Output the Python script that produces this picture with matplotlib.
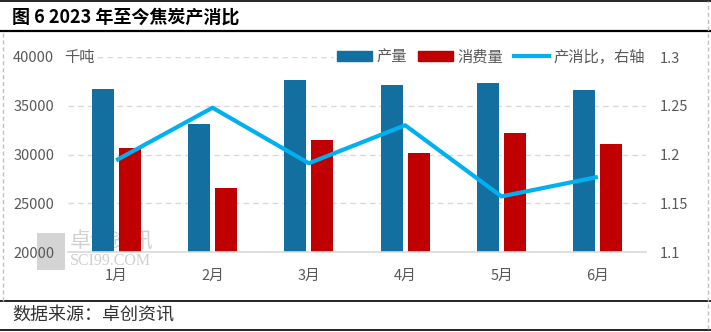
import matplotlib
matplotlib.use("Agg")
import matplotlib.pyplot as plt
from matplotlib.lines import Line2D
from matplotlib.patches import Rectangle
import numpy as np

plt.rcParams['font.family'] = ['Noto Sans CJK SC', 'DejaVu Sans']

months = ["1月", "2月", "3月", "4月", "5月", "6月"]
production = [36700, 33100, 37650, 37130, 37330, 36620]
consumption = [30670, 26560, 31490, 30150, 32200, 31080]
ratio = [1.194, 1.248, 1.191, 1.230, 1.157, 1.177]
left_ticks = [20000, 25000, 30000, 35000, 40000]
right_ticks = [1.1, 1.15, 1.2, 1.25, 1.3]
right_labels = ["1.1", "1.15", "1.2", "1.25", "1.3"]

BLUE = "#136FA0"
RED = "#C00000"
CYAN = "#00B0F0"
GRAY = "#595959"

W, H = 711, 332
fig = plt.figure(figsize=(W/100, H/100), dpi=100)

ax = fig.add_axes([68/W, (H-252)/H, (646-68)/W, (252-57)/H])
x = np.arange(len(months))
bw = 0.23
ax.bar(x - 0.14, production, bw, color=BLUE, zorder=3, label="产量")
ax.bar(x + 0.14, consumption, bw, color=RED, zorder=3, label="消费量")
ax.set_xlim(-0.5, len(months) - 0.5)
ax.set_ylim(20000, 40000)
ax.set_yticks(left_ticks)
ax.set_yticklabels([str(v) for v in left_ticks])
ax.set_xticks(x)
ax.set_xticklabels(months)
ax.tick_params(axis='both', length=0, colors=GRAY, labelsize=10.5)
ax.tick_params(axis='y', pad=10)
ax.tick_params(axis='x', pad=12)
ax.grid(axis='y', color='#D9D9D9', linestyle=(0, (4, 3)), linewidth=1, zorder=0)
for s in ['top', 'right', 'left']:
    ax.spines[s].set_visible(False)
ax.spines['bottom'].set_color('#D9D9D9')
ax.spines['bottom'].set_linewidth(1.2)
ax.spines['bottom'].set_zorder(4)

# watermark (behind bars and tick labels)
ax.add_patch(Rectangle((37/W, (H-270)/H), 28/W, 37/H, transform=fig.transFigure,
                       facecolor='#D4D4D4', edgecolor='none', zorder=1, clip_on=False))
ax.text(70/W, (H-242)/H, "卓创资讯", fontsize=15, color='#D0D0D0', va='center',
        ha='left', zorder=1, transform=fig.transFigure, clip_on=False)
ax.text(70/W, (H-261)/H, "SCI99.COM", fontsize=11.5, color='#D0D0D0', va='center',
        ha='left', family='Liberation Serif', zorder=1, transform=fig.transFigure,
        clip_on=False)

ax2 = ax.twinx()
ax2.plot(x, ratio, color=CYAN, linewidth=3, zorder=5, solid_capstyle='butt')
ax2.set_ylim(1.1, 1.3)
ax2.set_yticks(right_ticks)
ax2.set_yticklabels(right_labels)
ax2.tick_params(axis='y', length=0, colors=GRAY, labelsize=10.5, pad=10)
for s in ['top', 'right', 'left', 'bottom']:
    ax2.spines[s].set_visible(False)

# unit label
ax2.text(-0.5 - 4/96, 1.3, "千吨", ha='left', va='center', fontsize=11,
         color=GRAY, zorder=6, transform=ax2.transData,
         bbox=dict(facecolor='white', edgecolor='none', pad=1.5))

# legend
handles = [Rectangle((0, 0), 1, 1, color=BLUE), Rectangle((0, 0), 1, 1, color=RED),
           Line2D([0], [0], color=CYAN, linewidth=3)]
leg = ax2.legend(handles, ["产量", "消费量", "产消比，右轴"], loc='center right',
                 bbox_to_anchor=(1.004, 1.0), ncol=3, frameon=True, fontsize=11,
                 handlelength=2.3, handleheight=0.6, columnspacing=0.7,
                 handletextpad=0.3, borderpad=0.2, borderaxespad=0)
leg.get_frame().set_facecolor('white')
leg.get_frame().set_edgecolor('none')
leg.get_frame().set_alpha(1)
leg.set_zorder(10)
for t in leg.get_texts():
    t.set_color(GRAY)

# title and frame lines
fig.text(12/W, (H-17)/H, "图 6 2023 年至今焦炭产消比", fontsize=13, fontweight='bold',
         ha='left', va='center', color='black')
fig.text(12/W, (H-316)/H, "数据来源：卓创资讯", fontsize=13, ha='left', va='center',
         color='#333333')
fig.add_artist(Line2D([0, 1], [(H-1)/H, (H-1)/H], color='black', linewidth=1.2))
fig.add_artist(Line2D([0, 1], [(H-30.5)/H, (H-30.5)/H], color='black', linewidth=1.6))
fig.add_artist(Line2D([0, 1], [(H-301)/H, (H-301)/H], color='black', linewidth=1.2))
fig.add_artist(Line2D([0, 1], [(H-329.5)/H, (H-329.5)/H], color='black', linewidth=1.2))
fig.add_artist(Line2D([3/W, 3/W], [(H-301)/H, (H-30)/H], color='#C0C0C0', linewidth=1,
                      linestyle=(0, (3, 2))))
fig.add_artist(Line2D([708/W, 708/W], [(H-329)/H, (H-1)/H], color='#C0C0C0', linewidth=1,
                      linestyle=(0, (3, 2))))

fig.savefig("out.png", dpi=100)
